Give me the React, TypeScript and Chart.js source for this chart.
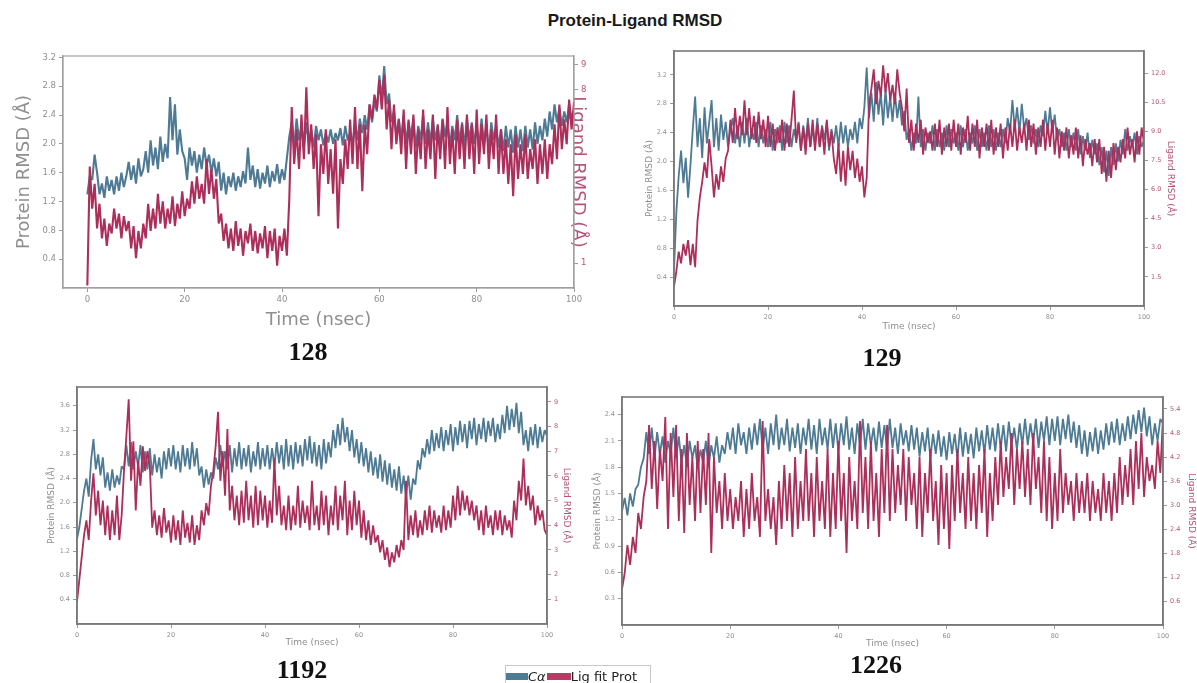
import React, { useEffect, useRef } from 'react';
import { Chart, registerables } from 'chart.js';

Chart.register(...registerables);

// ---------- data (time in nsec) ----------
const TIME = [
  0, 0.5, 1, 1.5, 2, 2.5, 3, 3.5, 4, 4.5, 5, 5.5, 6, 6.5, 7, 7.5, 8, 8.5, 9, 9.5,
  10, 10.5, 11, 11.5, 12, 12.5, 13, 13.5, 14, 14.5, 15, 15.5, 16, 16.5, 17, 17.5, 18, 18.5, 19, 19.5,
  20, 20.5, 21, 21.5, 22, 22.5, 23, 23.5, 24, 24.5, 25, 25.5, 26, 26.5, 27, 27.5, 28, 28.5, 29, 29.5,
  30, 30.5, 31, 31.5, 32, 32.5, 33, 33.5, 34, 34.5, 35, 35.5, 36, 36.5, 37, 37.5, 38, 38.5, 39, 39.5,
  40, 40.5, 41, 41.5, 42, 42.5, 43, 43.5, 44, 44.5, 45, 45.5, 46, 46.5, 47, 47.5, 48, 48.5, 49, 49.5,
  50, 50.5, 51, 51.5, 52, 52.5, 53, 53.5, 54, 54.5, 55, 55.5, 56, 56.5, 57, 57.5, 58, 58.5, 59, 59.5,
  60, 60.5, 61, 61.5, 62, 62.5, 63, 63.5, 64, 64.5, 65, 65.5, 66, 66.5, 67, 67.5, 68, 68.5, 69, 69.5,
  70, 70.5, 71, 71.5, 72, 72.5, 73, 73.5, 74, 74.5, 75, 75.5, 76, 76.5, 77, 77.5, 78, 78.5, 79, 79.5,
  80, 80.5, 81, 81.5, 82, 82.5, 83, 83.5, 84, 84.5, 85, 85.5, 86, 86.5, 87, 87.5, 88, 88.5, 89, 89.5,
  90, 90.5, 91, 91.5, 92, 92.5, 93, 93.5, 94, 94.5, 95, 95.5, 96, 96.5, 97, 97.5, 98, 98.5, 99, 99.5,
  100,
];

const X_TICKS = [0, 20, 40, 60, 80, 100];

// 128
const P128_CA = [
  1.30, 1.55, 1.50, 1.85, 1.60, 1.30, 1.45, 1.25, 1.55, 1.35,
  1.50, 1.30, 1.55, 1.35, 1.60, 1.40, 1.55, 1.75, 1.50, 1.70,
  1.45, 1.80, 1.55, 1.65, 1.90, 1.60, 2.05, 1.70, 1.95, 1.65,
  2.10, 1.75, 2.00, 1.80, 2.65, 2.05, 2.55, 1.85, 2.20, 1.90,
  1.80, 1.50, 1.95, 1.70, 1.90, 1.60, 1.85, 1.65, 1.95, 1.70,
  1.85, 1.60, 1.80, 1.55, 1.75, 1.35, 1.60, 1.30, 1.55, 1.40,
  1.60, 1.35, 1.55, 1.40, 1.62, 1.45, 1.95, 1.50, 1.70, 1.40,
  1.65, 1.38, 1.60, 1.45, 1.70, 1.40, 1.62, 1.48, 1.72, 1.45,
  1.65, 1.50, 1.80, 2.10, 2.30, 1.95, 2.35, 2.05, 2.25, 1.95,
  2.30, 2.00, 2.20, 1.95, 2.25, 2.05, 2.20, 1.98, 2.15, 2.02,
  2.20, 2.00, 2.15, 2.05, 2.22, 1.98, 2.25, 2.05, 2.15, 2.00,
  2.30, 2.05, 2.35, 2.15, 2.40, 2.20, 2.55, 2.30, 2.60, 2.45,
  2.95, 2.60, 3.08, 2.55, 2.70, 2.30, 2.45, 2.10, 2.35, 2.05,
  2.40, 2.00, 2.30, 2.10, 2.35, 1.95, 2.25, 2.05, 2.40, 2.00,
  2.30, 2.00, 2.35, 2.05, 2.25, 1.95, 2.35, 2.10, 2.30, 1.95,
  2.25, 2.05, 2.40, 2.00, 2.30, 1.95, 2.35, 2.05, 2.30, 2.00,
  2.25, 1.95, 2.35, 2.00, 2.25, 1.90, 2.30, 2.05, 2.25, 1.95,
  2.20, 1.90, 2.25, 1.95, 2.20, 1.88, 2.25, 1.95, 2.20, 1.90,
  2.25, 1.95, 2.20, 1.92, 2.30, 2.00, 2.25, 2.05, 2.35, 2.10,
  2.45, 2.20, 2.55, 2.30, 2.50, 2.25, 2.45, 2.30, 2.55, 2.35,
  2.40,
];
const P128_LIG = [
  0.10, 4.90, 3.20, 4.20, 2.40, 3.40, 2.00, 2.80, 1.70, 2.60,
  2.20, 3.20, 2.40, 3.00, 2.00, 2.90, 2.30, 2.70, 1.60, 2.50,
  1.20, 2.30, 1.60, 2.60, 2.00, 3.40, 2.30, 3.20, 2.40, 3.80,
  2.60, 3.50, 2.40, 3.20, 2.60, 3.70, 2.50, 3.40, 2.80, 3.90,
  2.90, 3.60, 3.20, 4.30, 3.40, 4.50, 3.60, 4.20, 3.40, 5.20,
  3.80, 4.80, 3.60, 4.40, 2.60, 3.00, 1.90, 2.60, 1.60, 2.40,
  1.50, 2.70, 1.70, 2.40, 1.30, 2.30, 1.80, 2.60, 1.50, 2.30,
  1.40, 2.20, 1.60, 2.50, 1.20, 2.30, 1.50, 2.40, 0.90, 2.10,
  1.50, 2.40, 1.30, 3.60, 7.30, 5.00, 6.40, 4.80, 7.00, 5.20,
  8.10, 5.40, 6.60, 4.80, 6.20, 2.90, 5.80, 4.60, 6.40, 4.20,
  5.60, 3.80, 6.00, 2.40, 5.20, 4.20, 6.00, 4.80, 6.80, 5.00,
  7.30, 4.80, 6.60, 3.90, 6.60, 5.40, 7.40, 6.80, 7.80, 7.20,
  8.40, 7.20, 8.60, 6.40, 7.60, 5.60, 7.40, 5.80, 6.80, 5.40,
  7.20, 4.80, 6.80, 5.40, 7.00, 4.60, 6.40, 5.20, 7.20, 4.80,
  6.40, 5.20, 7.00, 4.40, 6.60, 5.20, 6.80, 4.80, 7.30, 5.00,
  6.40, 4.60, 6.80, 5.20, 6.60, 4.80, 7.00, 5.20, 6.60, 4.60,
  7.20, 5.00, 6.60, 5.40, 7.00, 4.80, 6.40, 5.20, 7.00, 4.60,
  6.40, 4.60, 6.00, 4.20, 5.80, 3.70, 6.20, 4.40, 5.80, 4.60,
  6.20, 4.40, 5.60, 4.80, 6.00, 4.20, 5.80, 4.60, 6.00, 4.40,
  5.80, 5.00, 6.60, 5.20, 7.40, 5.60, 6.80, 5.80, 7.60, 6.40,
  7.50,
];

// 129
const P129_CA = [
  0.50, 1.30, 1.80, 2.15, 1.70, 2.05, 1.50, 1.95, 2.45, 2.90,
  2.20, 2.60, 2.05, 2.75, 2.25, 2.55, 2.85, 2.20, 2.60, 2.15,
  2.65, 2.30, 2.55, 2.20, 2.45, 2.60, 2.25, 2.50, 2.20, 2.55,
  2.25, 2.60, 2.20, 2.45, 2.30, 2.55, 2.20, 2.50, 2.25, 2.45,
  2.20, 2.55, 2.15, 2.45, 2.25, 2.50, 2.15, 2.55, 2.25, 2.50,
  2.20, 2.45, 2.30, 2.55, 2.15, 2.50, 2.25, 2.60, 2.20, 2.45,
  2.25, 2.60, 2.20, 2.50, 2.30, 2.55, 2.15, 2.45, 2.25, 2.50,
  2.20, 2.55, 2.25, 2.50, 2.20, 2.45, 2.30, 2.55, 2.25, 2.60,
  2.45, 2.75, 3.30, 2.60, 2.95, 2.55, 3.10, 2.65, 2.95, 2.50,
  3.00, 2.60, 2.90, 2.55, 2.95, 2.60, 2.85, 2.50, 2.70, 2.30,
  2.45, 2.15, 2.40, 2.25, 2.90, 2.20, 2.45, 2.15, 2.40, 2.25,
  2.50, 2.15, 2.45, 2.20, 2.40, 2.15, 2.50, 2.20, 2.45, 2.25,
  2.40, 2.15, 2.50, 2.20, 2.45, 2.15, 2.40, 2.25, 2.50, 2.15,
  2.45, 2.20, 2.40, 2.15, 2.50, 2.20, 2.45, 2.15, 2.40, 2.20,
  2.45, 2.25, 2.60, 2.40, 2.85, 2.45, 2.75, 2.40, 2.80, 2.45,
  2.60, 2.30, 2.50, 2.25, 2.45, 2.20, 2.50, 2.35, 2.70, 2.40,
  2.75, 2.40, 2.65, 2.30, 2.45, 2.20, 2.40, 2.15, 2.45, 2.20,
  2.40, 2.15, 2.45, 2.10, 2.35, 2.15, 2.40, 2.05, 2.30, 2.10,
  2.25, 1.95, 2.20, 1.85, 2.15, 1.80, 2.20, 1.95, 2.25, 2.00,
  2.30, 2.10, 2.45, 2.15, 2.35, 2.20, 2.40, 2.10, 2.35, 2.20,
  2.30,
];
const P129_LIG = [
  1.00, 1.80, 2.80, 2.20, 3.20, 2.60, 3.40, 2.10, 3.20, 2.00,
  4.40, 5.60, 6.40, 7.40, 6.60, 8.60, 7.20, 5.60, 6.80, 6.00,
  7.20, 6.40, 7.60, 8.00, 9.60, 8.40, 10.20, 8.60, 9.80, 8.80,
  10.60, 8.80, 10.20, 8.60, 9.80, 8.40, 10.00, 8.60, 9.60, 8.20,
  9.80, 8.20, 9.40, 8.00, 9.20, 8.40, 9.60, 8.00, 9.40, 8.20,
  9.60, 11.10, 8.40, 9.40, 8.00, 9.20, 7.80, 9.40, 8.20, 9.60,
  8.00, 9.40, 8.20, 9.20, 7.80, 9.60, 8.20, 9.00, 7.60, 6.80,
  8.40, 6.40, 8.00, 6.20, 8.20, 7.00, 8.00, 6.60, 7.60, 6.40,
  7.20, 5.60, 6.60, 10.40, 11.20, 12.20, 10.40, 11.60, 10.80, 12.40,
  11.00, 12.00, 10.60, 11.40, 10.40, 12.20, 11.00, 10.20, 9.00, 11.20,
  8.40, 9.60, 8.00, 9.40, 8.40, 9.60, 7.80, 9.20, 8.40, 9.00,
  8.00, 9.40, 8.20, 9.60, 7.80, 9.20, 8.20, 9.40, 8.00, 9.60,
  8.20, 9.40, 7.80, 9.20, 8.40, 9.80, 8.00, 9.40, 8.20, 9.60,
  7.60, 9.20, 8.20, 9.40, 8.00, 9.60, 7.80, 9.20, 8.20, 9.40,
  7.60, 9.20, 8.00, 9.40, 8.20, 9.60, 8.00, 9.20, 8.40, 9.40,
  8.00, 9.60, 8.20, 9.40, 7.80, 9.20, 8.20, 9.60, 8.00, 9.40,
  8.20, 9.60, 7.80, 9.20, 7.60, 9.00, 8.00, 9.20, 7.60, 8.80,
  7.80, 9.20, 7.60, 8.80, 7.20, 8.60, 7.80, 8.40, 7.20, 8.60,
  7.40, 8.60, 6.80, 8.20, 6.40, 8.00, 6.60, 8.40, 7.00, 8.20,
  7.40, 8.60, 7.60, 9.20, 7.80, 8.60, 7.40, 9.00, 7.80, 9.20,
  8.40,
];

// 1192
const P1192_CA = [
  1.40, 1.60, 1.90, 2.20, 2.40, 2.10, 2.70, 3.05, 2.55, 2.80,
  2.45, 2.75, 2.25, 2.50, 2.20, 2.55, 2.25, 2.45, 2.30, 2.60,
  2.55, 2.95, 2.60, 3.00, 2.55, 2.85, 2.60, 2.95, 2.50, 2.85,
  2.55, 2.90, 2.45, 2.80, 2.50, 2.75, 2.40, 2.85, 2.55, 2.90,
  2.60, 2.95, 2.55, 2.85, 2.50, 2.95, 2.60, 2.90, 2.55, 3.00,
  2.60, 2.90, 2.45, 2.60, 2.25, 2.55, 2.30, 2.50, 2.40, 2.75,
  2.55, 2.95, 2.60, 2.85, 2.55, 2.95, 2.50, 2.90, 2.60, 3.00,
  2.55, 2.90, 2.60, 2.95, 2.50, 2.85, 2.60, 3.00, 2.55, 2.90,
  2.60, 2.95, 2.55, 2.90, 2.60, 3.00, 2.65, 2.95, 2.55, 3.05,
  2.60, 2.95, 2.55, 3.00, 2.65, 2.95, 2.60, 3.05, 2.70, 3.10,
  2.65, 3.00, 2.60, 2.95, 2.55, 3.05, 2.65, 3.00, 2.75, 3.20,
  2.90, 3.30, 2.95, 3.40, 3.00, 3.25, 2.85, 3.20, 2.75, 3.05,
  2.65, 3.00, 2.60, 2.90, 2.50, 2.85, 2.45, 2.75, 2.40, 2.80,
  2.35, 2.70, 2.30, 2.65, 2.25, 2.55, 2.20, 2.60, 2.15, 2.45,
  2.10, 2.45, 2.05, 2.40, 2.30, 2.70, 2.55, 2.90, 2.75, 3.05,
  2.80, 3.20, 2.85, 3.15, 2.90, 3.25, 2.85, 3.20, 2.95, 3.30,
  2.85, 3.25, 2.95, 3.35, 3.00, 3.30, 2.90, 3.35, 3.05, 3.40,
  2.95, 3.30, 3.05, 3.40, 3.00, 3.35, 3.10, 3.40, 3.00, 3.30,
  3.05, 3.45, 3.15, 3.60, 3.20, 3.55, 3.25, 3.65, 3.15, 3.50,
  2.95, 3.20, 2.85, 3.25, 2.95, 3.30, 2.90, 3.25, 3.00, 3.20,
  3.10,
];
const P1192_LIG = [
  0.90, 1.80, 2.70, 3.60, 4.20, 3.40, 5.00, 6.10, 4.40, 5.40,
  4.00, 5.00, 3.60, 4.80, 3.40, 4.60, 3.60, 5.20, 3.40, 4.40,
  6.20, 7.60, 9.10, 5.80, 7.40, 4.60, 6.60, 5.60, 7.20, 6.20,
  7.00, 6.40, 3.90, 4.60, 3.60, 4.40, 3.50, 4.70, 3.70, 4.20,
  3.30, 4.40, 3.40, 4.20, 3.20, 4.60, 3.50, 4.10, 3.30, 4.40,
  3.20, 4.00, 3.40, 4.60, 4.00, 4.90, 4.40, 5.60, 6.20, 7.20,
  8.60, 5.80, 7.00, 5.20, 7.90, 4.60, 5.60, 4.20, 5.20, 4.00,
  5.40, 4.10, 5.80, 4.20, 5.20, 3.90, 5.60, 4.00, 5.40, 4.20,
  5.20, 3.90, 5.00, 4.10, 6.70, 4.40, 5.60, 4.00, 4.80, 3.80,
  5.20, 3.80, 4.80, 4.00, 5.60, 3.90, 5.00, 4.10, 4.80, 3.80,
  5.80, 4.00, 4.80, 3.80, 5.40, 4.00, 5.20, 3.60, 4.80, 4.00,
  5.60, 3.80, 5.20, 4.20, 5.80, 3.60, 5.00, 3.80, 5.40, 4.00,
  5.00, 3.50, 4.60, 3.40, 4.20, 3.20, 4.00, 3.30, 3.60, 2.90,
  3.40, 2.60, 3.10, 2.30, 2.90, 2.50, 3.20, 2.70, 3.40, 3.00,
  5.80, 3.40, 4.40, 3.60, 4.60, 3.50, 4.20, 3.60, 4.60, 3.80,
  4.80, 3.70, 4.60, 3.90, 4.40, 3.70, 4.80, 3.80, 4.60, 3.90,
  5.20, 4.20, 5.60, 4.40, 5.40, 4.60, 5.20, 4.40, 5.00, 4.20,
  4.80, 3.80, 4.60, 3.60, 4.80, 3.90, 4.40, 3.60, 4.60, 3.80,
  4.60, 3.60, 4.40, 3.80, 4.20, 3.50, 5.00, 4.20, 5.80, 5.00,
  6.70, 4.80, 5.60, 4.60, 5.20, 4.00, 4.80, 4.20, 4.60, 3.80,
  3.60,
];

// 1226
const P1226_CA = [
  1.30, 1.45, 1.25, 1.50, 1.35, 1.55, 1.60, 1.80, 1.90, 2.20,
  1.95, 2.25, 1.90, 2.20, 1.95, 2.15, 1.85, 2.10, 1.95, 2.25,
  1.90, 2.15, 1.85, 2.05, 1.80, 2.10, 1.90, 2.05, 1.78, 2.00,
  1.85, 2.10, 1.80, 2.05, 1.90, 2.15, 1.85, 2.05, 1.95, 2.20,
  2.00, 2.25, 1.95, 2.30, 2.05, 2.20, 1.95, 2.25, 2.00, 2.30,
  2.05, 2.35, 2.00, 2.25, 1.95, 2.30, 2.05, 2.40, 2.00, 2.25,
  2.05, 2.35, 1.98, 2.25, 2.02, 2.30, 1.95, 2.25, 2.05, 2.35,
  2.00, 2.28, 1.95, 2.35, 2.05, 2.25, 2.00, 2.35, 2.02, 2.30,
  1.98, 2.30, 2.05, 2.38, 2.00, 2.25, 1.95, 2.30, 2.05, 2.35,
  2.00, 2.30, 2.05, 2.25, 1.98, 2.32, 2.02, 2.28, 2.00, 2.35,
  2.02, 2.25, 1.95, 2.30, 2.05, 2.22, 1.98, 2.28, 2.00, 2.25,
  1.92, 2.20, 1.98, 2.25, 1.90, 2.18, 1.95, 2.22, 1.92, 2.15,
  1.88, 2.20, 1.95, 2.18, 1.90, 2.25, 1.92, 2.20, 1.95, 2.18,
  1.90, 2.25, 1.98, 2.22, 1.95, 2.28, 2.00, 2.25, 1.98, 2.30,
  2.02, 2.28, 1.98, 2.32, 2.05, 2.25, 2.00, 2.30, 2.05, 2.35,
  2.05, 2.30, 2.08, 2.35, 2.02, 2.32, 2.10, 2.38, 2.05, 2.35,
  2.10, 2.38, 2.05, 2.35, 2.12, 2.40, 2.08, 2.32, 2.02, 2.28,
  1.95, 2.22, 1.92, 2.20, 1.98, 2.25, 1.95, 2.22, 2.00, 2.30,
  2.05, 2.32, 2.08, 2.35, 2.05, 2.30, 2.10, 2.38, 2.12, 2.40,
  2.18, 2.45, 2.20, 2.48, 2.15, 2.38, 2.05, 2.30, 2.10, 2.35,
  2.30,
];
const P1226_LIG = [
  0.90, 1.30, 2.00, 1.50, 2.20, 1.80, 2.80, 2.40, 3.20, 3.60,
  5.00, 3.40, 4.60, 2.90, 4.40, 3.60, 5.20, 2.40, 4.80, 3.20,
  5.00, 2.60, 4.40, 2.30, 4.80, 3.00, 4.20, 2.60, 4.60, 2.80,
  4.40, 3.00, 4.80, 1.80, 4.20, 2.80, 3.60, 2.40, 3.80, 2.60,
  3.40, 2.40, 3.20, 2.60, 3.60, 2.20, 3.40, 2.40, 3.80, 2.60,
  3.20, 2.20, 5.10, 2.60, 3.40, 2.40, 3.20, 2.00, 3.60, 2.40,
  4.00, 2.60, 3.80, 2.20, 4.20, 2.40, 3.60, 2.60, 4.40, 2.60,
  3.80, 2.20, 4.20, 2.60, 3.60, 2.40, 4.40, 2.20, 3.80, 2.40,
  4.60, 2.60, 3.80, 1.80, 4.20, 2.60, 3.60, 2.40, 5.10, 2.80,
  4.20, 2.40, 4.60, 2.60, 3.80, 2.20, 4.40, 2.80, 5.00, 2.60,
  4.40, 2.80, 4.00, 3.00, 4.40, 2.60, 4.20, 3.00, 3.80, 2.40,
  4.20, 2.20, 3.80, 2.80, 4.40, 2.60, 3.60, 2.00, 4.00, 2.40,
  3.80, 1.90, 4.00, 2.60, 4.40, 2.80, 3.80, 2.40, 4.20, 2.60,
  3.80, 2.40, 4.00, 2.80, 4.40, 2.20, 3.80, 2.60, 4.20, 3.00,
  4.60, 3.20, 4.20, 3.40, 4.80, 3.00, 4.40, 3.40, 4.60, 3.20,
  4.40, 3.00, 4.80, 3.40, 4.20, 2.80, 4.60, 2.60, 4.20, 2.40,
  3.80, 2.60, 4.40, 2.80, 3.80, 3.00, 3.60, 2.60, 3.80, 2.80,
  3.60, 2.80, 3.80, 2.60, 3.60, 2.80, 3.40, 2.60, 3.80, 2.80,
  3.60, 2.60, 3.80, 2.80, 4.20, 3.00, 4.00, 3.20, 4.40, 3.00,
  4.60, 3.40, 4.80, 3.20, 4.20, 3.60, 4.00, 3.40, 4.60, 3.80,
  5.20,
];

// tick labels
const T128_LEFT = [0.4, 0.8, 1.2, 1.6, 2.0, 2.4, 2.8, 3.2];
const T128_RIGHT = [1, 8, 9];
const T129_LEFT = [0.4, 0.8, 1.2, 1.6, 2.0, 2.4, 2.8, 3.2];
const T129_RIGHT = [1.5, 3.0, 4.5, 6.0, 7.5, 9.0, 10.5, 12.0];
const T1192_LEFT = [0.4, 0.8, 1.2, 1.6, 2.0, 2.4, 2.8, 3.2, 3.6];
const T1192_RIGHT = [1, 2, 3, 4, 5, 6, 7, 8, 9];
const T1226_LEFT = [0.3, 0.6, 0.9, 1.2, 1.5, 1.8, 2.1, 2.4];
const T1226_RIGHT = [0.6, 1.2, 1.8, 2.4, 3.0, 3.6, 4.2, 4.8, 5.4];

// ---------- styling ----------
const BLUE = '#4e7a94';
const RED = '#ab2f5a';
const GRAY_TXT = '#8f8f8f';
const ROSE_TXT = '#b6557a';
const FONT = "'DejaVu Sans', sans-serif";

type PanelCfg = {
  box: { left: number; top: number; width: number; height: number };
  area: { top: number; left: number; right: number; bottom: number };
  xMin: number;
  xMax: number;
  yL: { max: number; ticks: number[]; dec: number };
  yR: { max: number; ticks: number[]; dec: number };
  ca: number[];
  lig: number[];
  tickSize: number;
  titleSize: number;
  padL: number;
  padR: number;
  padX: number;
  frameColor: string;
  frameWidth: number;
  lw: number;
};

const PANELS: PanelCfg[] = [
  {
    box: { left: 0, top: 40, width: 600, height: 300 },
    area: { top: 16, left: 63, right: 574, bottom: 248 },
    xMin: -5, xMax: 100,
    yL: { max: 3.22, ticks: T128_LEFT, dec: 1 },
    yR: { max: 9.36, ticks: T128_RIGHT, dec: 0 },
    ca: P128_CA, lig: P128_LIG,
    tickSize: 8.5, titleSize: 18, padL: 14, padR: 12, padX: 9,
    frameColor: '#a0a0a0', frameWidth: 1.2, lw: 2.1,
  },
  {
    box: { left: 600, top: 30, width: 597, height: 310 },
    area: { top: 21, left: 74, right: 544, bottom: 276 },
    xMin: 0, xMax: 100,
    yL: { max: 3.53, ticks: T129_LEFT, dec: 1 },
    yR: { max: 13.14, ticks: T129_RIGHT, dec: 1 },
    ca: P129_CA, lig: P129_LIG,
    tickSize: 6.5, titleSize: 9, padL: 44, padR: 21, padX: 8,
    frameColor: '#7a7a7a', frameWidth: 1.6, lw: 1.8,
  },
  {
    box: { left: 0, top: 370, width: 600, height: 290 },
    area: { top: 17, left: 77, right: 547, bottom: 254 },
    xMin: 0, xMax: 100,
    yL: { max: 3.91, ticks: T1192_LEFT, dec: 1 },
    yR: { max: 9.6, ticks: T1192_RIGHT, dec: 0 },
    ca: P1192_CA, lig: P1192_LIG,
    tickSize: 6.5, titleSize: 9, padL: 46, padR: 28, padX: 12,
    frameColor: '#7a7a7a', frameWidth: 1.6, lw: 1.8,
  },
  {
    box: { left: 580, top: 370, width: 617, height: 290 },
    area: { top: 27, left: 42, right: 583, bottom: 255 },
    xMin: 0, xMax: 100,
    yL: { max: 2.6, ticks: T1226_LEFT, dec: 1 },
    yR: { max: 5.7, ticks: T1226_RIGHT, dec: 1 },
    ca: P1226_CA, lig: P1226_LIG,
    tickSize: 6.5, titleSize: 9, padL: 12, padR: 0.5, padX: 11,
    frameColor: '#7a7a7a', frameWidth: 1.6, lw: 1.8,
  },
];

function Panel({ cfg }: { cfg: PanelCfg }) {
  const ref = useRef<HTMLCanvasElement | null>(null);

  useEffect(() => {
    const c = cfg;
    const leftW = c.area.left;
    const rightW = c.box.width - c.area.right;
    const bottomH = c.box.height - c.area.bottom;

    const frame = {
      id: 'frame',
      afterDatasetsDraw(chart: any) {
        const { ctx, chartArea: a } = chart;
        ctx.save();
        ctx.strokeStyle = c.frameColor;
        ctx.lineWidth = c.frameWidth;
        ctx.strokeRect(a.left, a.top, a.right - a.left, a.bottom - a.top);
        ctx.restore();
      },
    };

    const gridOpts = {
      display: true,
      drawOnChartArea: false,
      drawTicks: true,
      tickLength: 4,
      color: '#9a9a9a',
      lineWidth: 1,
    };

    const chart = new Chart(ref.current as HTMLCanvasElement, {
      type: 'line',
      data: {
        datasets: [
          {
            label: 'Cα',
            data: TIME.map((t, i) => ({ x: t, y: c.ca[i] })),
            yAxisID: 'y',
            borderColor: BLUE,
            borderWidth: c.lw,
            borderJoinStyle: 'bevel',
            pointRadius: 0,
            tension: 0,
            order: 1,
          },
          {
            label: 'Lig fit Prot',
            data: TIME.map((t, i) => ({ x: t, y: c.lig[i] })),
            yAxisID: 'y2',
            borderColor: RED,
            borderWidth: c.lw,
            borderJoinStyle: 'bevel',
            pointRadius: 0,
            tension: 0,
            order: 0,
          },
        ],
      },
      options: {
        responsive: false,
        animation: false,
        events: [],
        layout: { padding: { top: c.area.top, left: 0, right: 0, bottom: 0 } },
        plugins: {
          legend: { display: false },
          tooltip: { enabled: false },
        },
        scales: {
          x: {
            type: 'linear',
            min: c.xMin,
            max: c.xMax,
            afterBuildTicks: (s: any) => {
              s.ticks = X_TICKS.map((v) => ({ value: v }));
            },
            afterFit: (s: any) => {
              s.height = bottomH;
            },
            grid: gridOpts,
            border: { display: true, color: c.frameColor, width: c.frameWidth },
            ticks: {
              color: GRAY_TXT,
              font: { family: FONT, size: c.tickSize },
              padding: 3,
              maxRotation: 0,
              autoSkip: false,
              callback: (v: any) => String(v),
            },
            title: {
              display: true,
              text: 'Time (nsec)',
              color: GRAY_TXT,
              font: { family: FONT, size: c.titleSize },
              padding: { top: 0, bottom: c.padX },
            },
          },
          y: {
            type: 'linear',
            position: 'left',
            min: 0,
            max: c.yL.max,
            afterBuildTicks: (s: any) => {
              s.ticks = c.yL.ticks.map((v) => ({ value: v }));
            },
            afterFit: (s: any) => {
              s.width = leftW;
            },
            grid: gridOpts,
            border: { display: true, color: c.frameColor, width: c.frameWidth },
            ticks: {
              color: GRAY_TXT,
              font: { family: FONT, size: c.tickSize },
              padding: 3,
              autoSkip: false,
              callback: (v: any) => Number(v).toFixed(c.yL.dec),
            },
            title: {
              display: true,
              text: 'Protein RMSD (Å)',
              color: GRAY_TXT,
              font: { family: FONT, size: c.titleSize },
              padding: { top: c.padL, bottom: 0 },
            },
          },
          y2: {
            type: 'linear',
            position: 'right',
            min: 0,
            max: c.yR.max,
            afterBuildTicks: (s: any) => {
              s.ticks = c.yR.ticks.map((v) => ({ value: v }));
            },
            afterFit: (s: any) => {
              s.width = rightW;
            },
            grid: gridOpts,
            border: { display: true, color: c.frameColor, width: c.frameWidth },
            ticks: {
              color: ROSE_TXT,
              font: { family: FONT, size: c.tickSize },
              padding: 3,
              autoSkip: false,
              callback: (v: any) => Number(v).toFixed(c.yR.dec),
            },
            title: {
              display: true,
              text: 'Ligand RMSD (Å)',
              color: ROSE_TXT,
              font: { family: FONT, size: c.titleSize },
              padding: { top: c.padR, bottom: 0 },
            },
          },
        },
      } as any,
      plugins: [frame],
    });
    return () => chart.destroy();
  }, [cfg]);

  return (
    <canvas
      ref={ref}
      width={cfg.box.width}
      height={cfg.box.height}
      style={{
        position: 'absolute',
        left: cfg.box.left,
        top: cfg.box.top,
        width: cfg.box.width,
        height: cfg.box.height,
      }}
    />
  );
}

const LABEL_STYLE: React.CSSProperties = {
  position: 'absolute',
  width: 120,
  textAlign: 'center',
  fontFamily: "'Liberation Serif', 'Times New Roman', serif",
  fontWeight: 'bold',
  fontSize: 26,
  lineHeight: '26px',
  color: '#111',
};

export default function App() {
  return (
    <div
      style={{
        position: 'absolute',
        left: 0,
        top: 0,
        width: 1197,
        height: 683,
        overflow: 'hidden',
        background: '#ffffff',
      }}
    >
      <div
        style={{
          position: 'absolute',
          left: 435,
          top: 12,
          width: 400,
          textAlign: 'center',
          fontFamily: "'Liberation Sans', Arial, sans-serif",
          fontWeight: 'bold',
          fontSize: 17,
          lineHeight: '17px',
          color: '#1a1a1a',
        }}
      >
        Protein-Ligand RMSD
      </div>

      {PANELS.map((p, i) => (
        <Panel key={i} cfg={p} />
      ))}

      <div style={{ ...LABEL_STYLE, left: 248, top: 339 }}>128</div>
      <div style={{ ...LABEL_STYLE, left: 822, top: 345 }}>129</div>
      <div style={{ ...LABEL_STYLE, left: 242, top: 657 }}>1192</div>
      <div style={{ ...LABEL_STYLE, left: 816, top: 652 }}>1226</div>

      <div
        style={{
          position: 'absolute',
          left: 505,
          top: 665,
          width: 146,
          height: 30,
          borderTop: '1px solid #c8c8c8',
          borderLeft: '1px solid #c8c8c8',
          borderRight: '1px solid #c8c8c8',
          display: 'flex',
          alignItems: 'flex-start',
          paddingTop: 4,
          fontFamily: "'DejaVu Sans', sans-serif",
          fontSize: 13,
          lineHeight: '14px',
          color: '#222',
          boxSizing: 'border-box',
        }}
      >
        <span style={{ display: 'inline-block', width: 22, height: 7, background: BLUE, marginTop: 3 }} />
        <span style={{ fontStyle: 'italic', marginRight: 1 }}>Cα</span>
        <span style={{ display: 'inline-block', width: 24, height: 7, background: '#b53d64', marginTop: 3 }} />
        <span>Lig fit Prot</span>
      </div>
    </div>
  );
}
